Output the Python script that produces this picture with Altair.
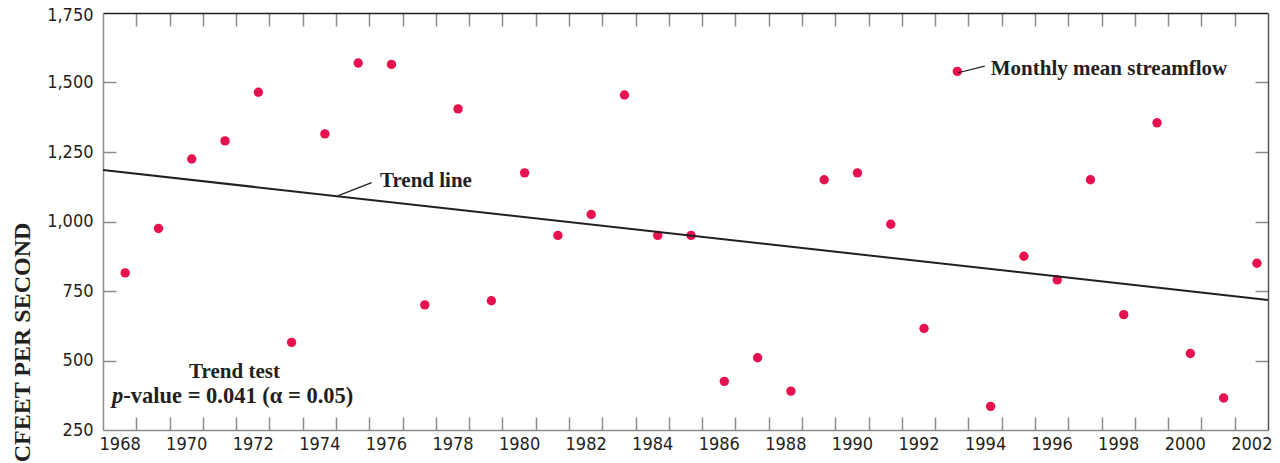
import altair as alt
import pandas as pd

# ---- data ----
years = list(range(1968, 2003))
flow = [815, 975, 1225, 1290, 1465, 565, 1315, 1570, 1565, 700,
        1405, 715, 1175, 950, 1025, 1455, 950, 950, 425, 510,
        390, 1150, 1175, 990, 615, 1540, 335, 875, 790, 1150,
        665, 1355, 525, 365, 850]
obs_month = 9  # monthly mean plotted within its year

trend_years = [1968, 2003]
trend_flow = [1185, 718]

label_years = list(range(1968, 2003, 2))
year_bounds = list(range(1969, 2003))
y_labels = [250, 500, 750, 1000, 1250, 1500, 1750]
y_inner = [500, 750, 1000, 1250, 1500]

left_text = ["Trend line", "Monthly mean streamflow"]
left_x = [1976.32, 1994.67]
left_y = [1125, 1527]

center_text = ["Trend test"]
center_x = [1971.95]
center_y = [437]

pval_text = ["-value = 0.041 (\u03b1 = 0.05)"]
pval_x = [1968.61]
pval_y = [348]

ital_text = ["p"]
ital_x = [1968.27]
ital_y = [348]

lead_x = [1975.07, 1993.69]
lead_y = [1093, 1535]
lead_x2 = [1976.07, 1994.49]
lead_y2 = [1140, 1559]

W, H = 1165, 417
INK = "#231f20"
GRAY = "#8c8c8c"
SANS = "Liberation Sans Narrow, Arial Narrow, DejaVu Sans Condensed, sans-serif"
SERIF = "Liberation Serif, Times New Roman, serif"

pts = pd.DataFrame({"x": [y + (obs_month - 1) / 12 for y in years], "flow": flow})
trend = pd.DataFrame({"x": trend_years, "flow": trend_flow})
ann_l = pd.DataFrame({"x": left_x, "flow": left_y, "text": left_text})
ann_c = pd.DataFrame({"x": center_x, "flow": center_y, "text": center_text})
ann_p = pd.DataFrame({"x": pval_x, "flow": pval_y, "text": pval_text})
ital = pd.DataFrame({"x": ital_x, "flow": ital_y, "text": ital_text})
lead = pd.DataFrame({"x": lead_x, "flow": lead_y, "x2": lead_x2, "flow2": lead_y2})

xs = alt.Scale(domain=[1968, 2003], nice=False, zero=False)
ys = alt.Scale(domain=[250, 1750], nice=False, zero=False)

# Layer A: points + labelled axes (bottom / left)
pA = alt.Chart(pts).mark_circle(size=88, opacity=1, color="#e8114f").encode(
    x=alt.X("x:Q", scale=xs, axis=alt.Axis(
        orient="bottom", values=[y + 0.5 for y in label_years],
        labelExpr="floor(datum.value)", ticks=False, tickSize=0,
        domainColor=GRAY, domainWidth=1.5, labelPadding=5, title=None,
        labelFont=SANS, labelFontSize=18, labelColor=INK, grid=False)),
    y=alt.Y("flow:Q", scale=ys, axis=alt.Axis(
        orient="left", values=y_labels, format=",d", ticks=False, tickSize=0,
        domainColor=GRAY, domainWidth=1.5, labelPadding=10,
        labelOffset={"condition": {"test": "datum.value == 1750", "value": 2}, "value": 0},
        labelFont=SANS, labelFontSize=18, labelColor=INK, grid=False,
        title="CFEET PER SECOND", titleFont=SERIF, titleFontSize=24,
        titleFontWeight="bold", titleColor=INK, titleAngle=270,
        titleX=-81, titleY=329, titleAlign="center", titleBaseline="middle")),
)

# Layer B: trend line + inward ticks at bottom and left
pB = alt.Chart(trend).mark_line(color=INK, strokeWidth=2).encode(
    x=alt.X("x:Q", scale=xs, axis=alt.Axis(
        orient="top", offset=-H, values=year_bounds, tickSize=13,
        tickColor=GRAY, tickWidth=1.5, labels=False, domain=False,
        title=None, grid=False)),
    y=alt.Y("flow:Q", scale=ys, axis=alt.Axis(
        orient="right", offset=-W, values=y_inner, tickSize=13,
        tickColor=GRAY, tickWidth=1.5, labels=False, domain=False,
        title=None, grid=False)),
)

# Layer C: leader lines + frame top / right with inward ticks
pC = alt.Chart(lead).mark_rule(color=INK, strokeWidth=1.2).encode(
    x=alt.X("x:Q", scale=xs, axis=alt.Axis(
        orient="bottom", offset=-H, values=year_bounds, tickSize=13,
        tickColor=GRAY, tickWidth=1.5, labels=False, domain=True,
        domainColor=INK, domainWidth=1.5, title=None, grid=False)),
    y=alt.Y("flow:Q", scale=ys, axis=alt.Axis(
        orient="left", offset=-W, values=y_inner, tickSize=13,
        tickColor=GRAY, tickWidth=1.5, labels=False, domain=True,
        domainColor="#555555", domainWidth=1.5, title=None, grid=False)),
    x2="x2:Q",
    y2="flow2:Q",
)

def text_layer(df, align, size=21, style="normal"):
    return alt.Chart(df).mark_text(
        font=SERIF, fontSize=size, fontWeight="bold", fontStyle=style,
        color=INK, align=align, baseline="alphabetic",
    ).encode(
        x=alt.X("x:Q", scale=xs, axis=None),
        y=alt.Y("flow:Q", scale=ys, axis=None),
        text="text:N",
    )

pD = text_layer(ann_l, "left")
pE = text_layer(ann_c, "center")
pF = text_layer(ann_p, "left", 22.5)
pG = text_layer(ital, "left", 22.5, "italic")

chart = alt.layer(pA, pB, pC, pD, pE, pF, pG).resolve_axis(
    x="independent", y="independent"
).properties(
    width=W, height=H,
    autosize=alt.AutoSizeParams(type="none"),
    padding={"left": 95, "top": 5, "right": 4, "bottom": 33},
).configure_view(stroke=None).configure(background="white")

chart.save("out.html", embed_options={"renderer": "svg", "actions": False})
